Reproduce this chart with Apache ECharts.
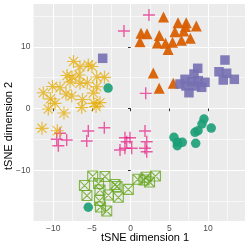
<!DOCTYPE html>
<html><head><meta charset="utf-8">
<script src="https://cdn.jsdelivr.net/npm/echarts@6/dist/echarts.min.js"></script>
<style>html,body{margin:0;padding:0;background:#fff}#c{width:249px;height:249px}</style>
</head><body><div id="c"></div>
<script>
// ---- data (tSNE dimension 1, tSNE dimension 2) ----
const circlePts = [[-2.92,3.32],[-5.48,-16.0],[5.59,-4.67],[6.02,-5.48],[6.67,-5.48],[6.02,-6.03],[8.40,-5.64],[8.31,-3.86],[8.70,-3.60],[9.47,-1.70],[9.21,-2.51],[10.41,-3.16]];
const trianglePts = [[4.24,14.83],[6.11,13.9],[7.18,13.9],[8.48,13.37],[1.33,12.19],[2.11,12.12],[5.72,12.45],[6.85,12.56],[1.20,10.83],[3.70,11.83],[3.44,10.62],[4.50,10.57],[5.40,10.75],[6.56,11.05],[7.70,11.38],[4.84,9.55],[2.92,5.75],[3.68,3.27],[5.50,4.08],[7.08,13.28]];
const squarePts = [[-3.62,8.14],[8.66,6.52],[8.18,5.59],[7.02,4.73],[6.37,3.97],[7.88,4.34],[8.73,4.51],[9.60,4.25],[7.14,3.65],[8.31,3.65],[9.17,3.44],[7.53,2.56],[12.18,7.86],[11.41,5.96],[12.40,5.71],[13.39,4.73],[11.96,4.62]];
const plusPts = [[-0.87,12.56],[2.36,15.15],[1.94,2.46],[-5.48,-3.65],[-3.41,-3.11],[-5.68,-5.27],[-9.13,-4.02],[-8.27,-5.11],[-9.35,-6.03],[-0.74,-4.73],[-0.09,-4.73],[1.85,-3.65],[-0.52,-5.38],[2.07,-5.38],[-1.38,-6.73],[-0.74,-6.45],[0.13,-6.45],[1.85,-6.45],[2.07,-7.00],[-9.56,-4.99]];
const boxXPts = [[-4.91,-10.94],[-3.32,-11.02],[-5.97,-12.48],[-4.16,-12.16],[-2.03,-12.32],[-1.77,-12.64],[-3.97,-13.21],[-5.65,-14.10],[-2.89,-14.02],[-1.60,-14.39],[-0.31,-13.10],[-4.03,-14.91],[-3.90,-15.96],[-3.10,-16.61],[0.92,-11.47],[1.98,-11.15],[3.20,-10.94],[2.43,-11.91],[1.72,-11.59]];
const asteriskPts = [[-7.39,7.62],[-6.55,6.77],[-5.48,7.05],[-5.00,6.81],[-8.23,5.35],[-7.58,5.11],[-6.68,5.43],[-4.39,5.11],[-3.39,5.06],[-7.84,4.29],[-6.55,4.08],[-5.61,4.18],[-10.10,3.57],[-9.13,3.37],[-4.39,3.53],[-11.29,2.56],[-8.36,2.35],[-7.62,2.03],[-4.83,2.51],[-10.36,1.57],[-9.78,0.84],[-6.23,1.46],[-4.74,0.84],[-3.97,0.94],[-10.65,-0.08],[-8.62,-0.73],[-6.33,0.16],[-4.48,0.32],[-11.46,-3.21],[-9.48,-3.60]];

const xTicks = [-10,-5,0,5,10];
const yTicks = [-10,0,10];
const xMinor = [-7.5,-2.5,2.5,7.5,12.5];
const yMinor = [-15,-5,5,15];
const xTitle = 'tSNE dimension 1';
const yTitle = 'tSNE dimension 2';

const FONT = '"Liberation Sans", Arial, sans-serif';
const fmt = v => String(v).replace('-', '\u2212');

const PLUS = 'path://M5,0L5,10M0,5L10,5';
const AST = 'path://M5,0L5,10M0,5L10,5M1.46,1.46L8.54,8.54M1.46,8.54L8.54,1.46';
const BOXX = 'path://M0,0L10,0L10,10L0,10ZM0,0L10,10M0,10L10,0';

const chart = echarts.init(document.getElementById('c'), null, {renderer:'canvas'});

function filled(data, symbol, size, color, op) {
  return {type:'scatter', data, symbol, symbolSize:size, z:3,
    itemStyle:{color, opacity:op}};
}
function stroked(data, symbol, size, color, w, op) {
  return {type:'scatter', data, symbol, symbolSize:size, z:3,
    itemStyle:{color:'rgba(0,0,0,0)', borderColor:color, borderWidth:w, opacity:op}};
}

const minorLine = {
  silent:true, symbol:'none', z:1, animation:false,
  label:{show:false},
  lineStyle:{color:'#ffffff', width:0.6, type:'solid', opacity:1},
  emphasis:{disabled:true},
  data: xMinor.map(v=>({xAxis:v})).concat(yMinor.map(v=>({yAxis:v})))
};

const s0 = filled(circlePts, 'circle', 9.5, '#1B9E77', 0.9);
s0.markLine = minorLine;

chart.setOption({
  animation:false,
  grid:{left:33.5, right:4, top:4, bottom:28, show:true, backgroundColor:'#EBEBEB', borderWidth:0},
  xAxis:{type:'value', min:-12.56, max:14.77,
    axisLine:{show:false},
    axisTick:{show:true, customValues:xTicks, length:2.7, lineStyle:{color:'#333333', width:1}},
    axisLabel:{customValues:xTicks, formatter:fmt, color:'#4D4D4D', fontSize:8.5, fontFamily:FONT, margin:3},
    splitLine:{show:true, lineStyle:{color:'#ffffff', width:1.1}}},
  yAxis:{type:'value', min:-18.23, max:16.94,
    axisLine:{show:false},
    axisTick:{show:true, customValues:yTicks, length:2.7, lineStyle:{color:'#333333', width:1}},
    axisLabel:{customValues:yTicks, formatter:fmt, color:'#4D4D4D', fontSize:8.5, fontFamily:FONT, margin:3},
    splitLine:{show:true, lineStyle:{color:'#ffffff', width:1.1}}},
  graphic:[
    {type:'text', left:101, top:232, style:{text:xTitle, fontSize:11, fontFamily:FONT, fill:'#000'}},
    {type:'text', rotation:Math.PI/2, x:3, y:170, style:{text:yTitle, fontSize:11, fontFamily:FONT, fill:'#000'}}
  ],
  series:[
    s0,
    filled(trianglePts, 'triangle', 11, '#D95F02', 0.95),
    filled(squarePts, 'rect', 9.5, '#7570B3', 0.9),
    stroked(plusPts, PLUS, 12, '#E7298A', 1.4, 0.75),
    stroked(boxXPts, BOXX, 10, '#66A61E', 1.1, 0.8),
    stroked(asteriskPts, AST, 13, '#E6AB02', 1.2, 0.75)
  ]
});
</script></body></html>
